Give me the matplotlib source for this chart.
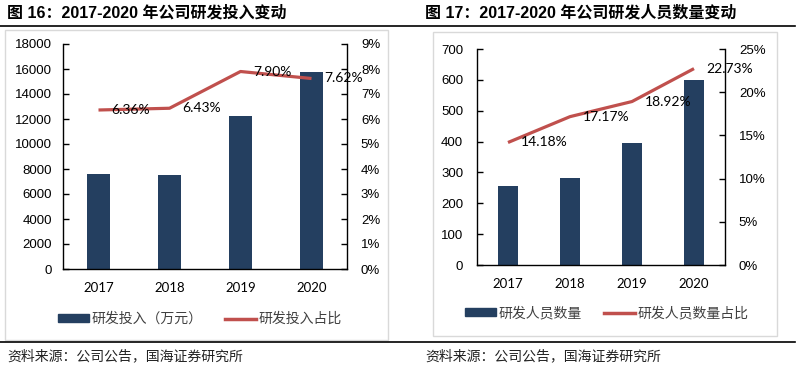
import numpy as np
import matplotlib
matplotlib.use('Agg')
import matplotlib.pyplot as plt
from matplotlib.patches import Rectangle, Patch
from matplotlib.lines import Line2D
from matplotlib.ticker import FuncFormatter

plt.rcParams['font.family'] = ['Liberation Sans', 'Noto Sans CJK SC', 'DejaVu Sans']

years = ['2017', '2018', '2019', '2020']
rd_invest = [7570, 7560, 12240, 15780]          # 万元
rd_invest_ratio = [6.36, 6.43, 7.90, 7.62]      # %
rd_staff = [256, 282, 394, 598]
rd_staff_ratio = [14.18, 17.17, 18.92, 22.73]   # %

titles = ['图 16：2017-2020 年公司研发投入变动', '图 17：2017-2020 年公司研发人员数量变动']
bar_names = ['研发投入（万元）', '研发人员数量']
line_names = ['研发投入占比', '研发人员数量占比']
source = '资料来源：公司公告，国海证券研究所'

bar_color = '#243F60'
line_color = '#C0504D'
cjk = ['Noto Sans CJK SC', 'DejaVu Sans']

W, H = 800, 370
fig = plt.figure(figsize=(8, 3.7), dpi=100)

def fx(px):
    return px / W

def fy(py):
    return 1 - py / H

# frames around the two charts
fig.patches.append(Rectangle((fx(5), fy(340)), fx(383), 310 / H, transform=fig.transFigure,
                             fill=False, edgecolor='#D9D9D9', linewidth=1))
fig.patches.append(Rectangle((fx(433), fy(336)), fx(344), 304 / H, transform=fig.transFigure,
                             fill=False, edgecolor='#D9D9D9', linewidth=1))
# black rules
fig.lines.append(Line2D([0, fx(795)], [fy(26), fy(26)], transform=fig.transFigure, color='black', lw=1.2))
fig.lines.append(Line2D([0, fx(795)], [fy(342), fy(342)], transform=fig.transFigure, color='black', lw=1.2))

panels = [
    dict(rect=[fx(63), fy(269), fx(284), 225 / H], bars=rd_invest, ratio=rd_invest_ratio,
         ylim=(0, 18000), ystep=2000, rlim=(0, 9), rstep=1, title_x=7, leg=(200, 319),
         src_x=7, lpad=8, rpad=10),
    dict(rect=[fx(477), fy(265), fx(248), 216 / H], bars=rd_staff, ratio=rd_staff_ratio,
         ylim=(0, 700), ystep=100, rlim=(0, 25), rstep=5, title_x=425, leg=(607, 313),
         src_x=425, lpad=10, rpad=10),
]

x = np.arange(len(years))
for i, p in enumerate(panels):
    ax = fig.add_axes(p['rect'])
    ax.bar(x, p['bars'], width=0.31, color=bar_color, zorder=2)
    ax.set_xlim(-0.5, len(years) - 0.5)
    ax.set_ylim(*p['ylim'])
    ax.set_yticks(np.arange(p['ylim'][0], p['ylim'][1] + 1, p['ystep']))
    ax.set_xticks(x)
    ax.set_xticklabels(years, family=['Lato', 'DejaVu Sans'], fontsize=9.5)
    ax.tick_params(axis='x', length=0, pad=9)
    ax.tick_params(axis='y', direction='in', length=4, width=1, labelsize=9.5, pad=p['lpad'],
                   colors='black')
    for s in ['top', 'right']:
        ax.spines[s].set_visible(False)
    ax.spines['left'].set_linewidth(1)
    ax.spines['bottom'].set_linewidth(1)

    ax2 = ax.twinx()
    ax2.plot(x, p['ratio'], color=line_color, lw=2.3, solid_capstyle='butt', zorder=3)
    ax2.set_ylim(*p['rlim'])
    ax2.set_yticks(np.arange(p['rlim'][0], p['rlim'][1] + 0.01, p['rstep']))
    ax2.yaxis.set_major_formatter(FuncFormatter(lambda v, pos: '%d%%' % round(v)))
    ax2.tick_params(axis='y', direction='in', length=4, width=1, labelsize=9.5, pad=p['rpad'])
    for s in ['top', 'left', 'bottom']:
        ax2.spines[s].set_visible(False)
    ax2.spines['right'].set_linewidth(1)
    for xi, v in zip(x, p['ratio']):
        ax2.annotate('%.2f%%' % v, (xi, v), xytext=(9, 0), textcoords='offset points',
                     ha='left', va='center', fontsize=10, family=['Lato', 'DejaVu Sans'], zorder=4)

    fig.text(fx(p['title_x']), fy(13), titles[i], fontsize=11.5, fontweight='bold',
             ha='left', va='center')
    fig.text(fx(p['src_x']), fy(356), source, fontsize=10, family=cjk, ha='left', va='center',
             color='#222222')

    handles = [Patch(facecolor=bar_color, edgecolor=bar_color),
               Line2D([0], [0], color=line_color, lw=2.5)]
    fig.legend(handles, [bar_names[i], line_names[i]], loc='center',
               bbox_to_anchor=(fx(p['leg'][0]), fy(p['leg'][1])), ncol=2, frameon=False,
               prop={'family': cjk, 'size': 10}, labelcolor='#404040', handlelength=2.2,
               handleheight=0.5, handletextpad=0.2, columnspacing=1.6, borderpad=0)

fig.savefig('out.png', dpi=100, facecolor='white')
